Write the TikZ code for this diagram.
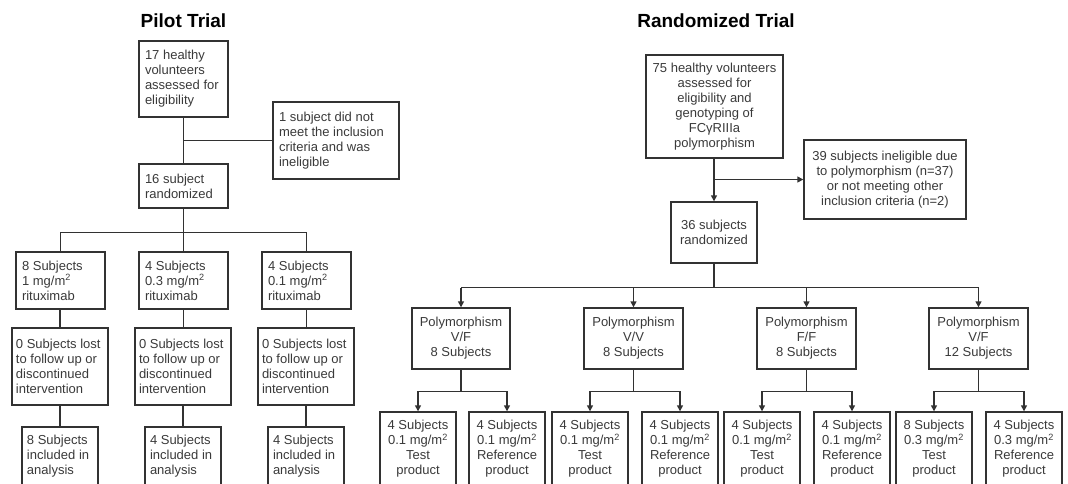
\documentclass[tikz,border=0pt]{standalone}
\usepackage{fontspec}
\setmainfont{Liberation Sans}
\usetikzlibrary{arrows.meta,calc}
\definecolor{ink}{RGB}{58,58,58}
\definecolor{edgec}{RGB}{50,50,50}
\tikzset{
  bx/.style={draw=edgec, line width=1.4pt, fill=white, text=ink,
    font=\fontsize{13}{15}\selectfont, inner ysep=0pt},
  lbox/.style={bx, align=flush left},
  cbox/.style={bx, align=center, inner xsep=2pt},
  conn/.style={draw=edgec, line width=1.4pt},
  arr/.style={conn, -{Triangle[length=6pt,width=6pt]}},
  ttl/.style={font=\bfseries\fontsize{19}{22}\selectfont, text=black, anchor=base, inner sep=0pt}
}
% left-aligned box: xsep, name, x1, y1, x2, y2, text
\newcommand\leftbox[7]{%
  \pgfmathsetmacro\BW{#5-#3}\pgfmathsetmacro\BH{#6-#4}%
  \pgfmathsetmacro\BX{(#3+#5)/2}\pgfmathsetmacro\BY{(#4+#6)/2}%
  \pgfmathsetmacro\TW{#5-#3-2*#1}%
  \node[lbox, inner xsep=#1pt, text width=\TW pt, minimum width=\BW pt, minimum height=\BH pt] (#2) at (\BX,\BY) {#7};}
% centred box: name, x1, y1, x2, y2, text
\newcommand\ctrbox[6]{%
  \pgfmathsetmacro\BW{#4-#2}\pgfmathsetmacro\BH{#5-#3}%
  \pgfmathsetmacro\BX{(#2+#4)/2}\pgfmathsetmacro\BY{(#3+#5)/2}%
  \node[cbox, minimum width=\BW pt, minimum height=\BH pt] (#1) at (\BX,\BY) {#6};}
\begin{document}
\begin{tikzpicture}[x=1pt,y=-1pt]
\useasboundingbox (0,0) rectangle (1068,483);
\fill[white] (0,0) rectangle (1068,483);
\clip (0,0) rectangle (1068,483);

% titles
\node[ttl] (t1) at (183.5,27) {Pilot Trial};
\node[ttl] (t2) at (716,27) {Randomized Trial};

% ---------- Pilot trial ----------
\leftbox{6}{A}{139}{41}{228}{117}{17~healthy\\volunteers\\assessed~for\\eligibility}
\leftbox{6}{B}{273}{102}{399}{179}{1~subject~did~not\\meet~the~inclusion\\criteria~and~was\\ineligible}
\leftbox{6}{C}{139}{164}{228}{208}{16~subject\\randomized}
\leftbox{6}{R1a}{16}{252}{105}{309}{8~Subjects\\1~mg/m\textsuperscript{2}\\rituximab}
\leftbox{6}{R1b}{139}{252}{228}{309}{4~Subjects\\0.3~mg/m\textsuperscript{2}\\rituximab}
\leftbox{6}{R1c}{262}{252}{351}{309}{4~Subjects\\0.1~mg/m\textsuperscript{2}\\rituximab}
\leftbox{4}{R2a}{12}{328}{108}{405}{0~Subjects~lost\\to~follow~up~or\\discontinued\\intervention}
\leftbox{4}{R2b}{135}{328}{231}{405}{0~Subjects~lost\\to~follow~up~or\\discontinued\\intervention}
\leftbox{4}{R2c}{258}{328}{354}{405}{0~Subjects~lost\\to~follow~up~or\\discontinued\\intervention}
\leftbox{5}{R3a}{22}{427}{98}{485}{8~Subjects\\included~in\\analysis}
\leftbox{5}{R3b}{145}{427}{221}{485}{4~Subjects\\included~in\\analysis}
\leftbox{5}{R3c}{268}{427}{344}{485}{4~Subjects\\included~in\\analysis}

\draw[conn] (A.south) -- (C.north);
\coordinate (jB) at ($(A.south)!0.5!(C.north)$);
\draw[conn] (jB) -- (jB -| B.west);
\coordinate (jP) at ($(C.south)+(0,24)$);
\draw[conn] (C.south) -- (jP);
\draw[conn] (R1a.north) |- (jP) -| (R1c.north);
\draw[conn] (jP) -- (R1b.north);
\draw[conn] (R2a.north |- R1a.south) -- (R2a.north);
\draw[conn] (R1b.south) -- (R1b.south |- R2b.north);
\draw[conn] (R1c.south) -- (R1c.south |- R2c.north);
\draw[conn] (R2a.south) -- (R3a.north);
\draw[conn] (R2b.south -| R3b.north) -- (R3b.north);
\draw[conn] (R2c.south -| R3c.north) -- (R3c.north);

% ---------- Randomized trial ----------
\ctrbox{D}{646}{55}{783}{158}{75 healthy volunteers\\assessed for\\eligibility and\\genotyping of\\FCγRIIIa\\polymorphism}
\ctrbox{F}{804}{140}{966}{219}{39 subjects ineligible due\\to polymorphism (n=37)\\or not meeting other\\inclusion criteria (n=2)}
\ctrbox{E}{671}{202}{757}{263}{36 subjects\\randomized}
\ctrbox{P1}{412}{308}{510}{369}{Polymorphism\\V/F\\8 Subjects}
\ctrbox{P2}{584}{308}{683}{369}{Polymorphism\\V/V\\8 Subjects}
\ctrbox{P3}{757}{308}{856}{369}{Polymorphism\\F/F\\8 Subjects}
\ctrbox{P4}{929}{308}{1028}{369}{Polymorphism\\V/F\\12 Subjects}
\ctrbox{L1}{380}{412}{456}{486}{4 Subjects\\0.1 mg/m\textsuperscript{2}\\Test\\product}
\ctrbox{L2}{469}{412}{545}{486}{4 Subjects\\0.1 mg/m\textsuperscript{2}\\Reference\\product}
\ctrbox{L3}{552}{412}{628}{486}{4 Subjects\\0.1 mg/m\textsuperscript{2}\\Test\\product}
\ctrbox{L4}{642}{412}{718}{486}{4 Subjects\\0.1 mg/m\textsuperscript{2}\\Reference\\product}
\ctrbox{L5}{724}{412}{800}{486}{4 Subjects\\0.1 mg/m\textsuperscript{2}\\Test\\product}
\ctrbox{L6}{814}{412}{890}{486}{4 Subjects\\0.1 mg/m\textsuperscript{2}\\Reference\\product}
\ctrbox{L7}{896}{412}{972}{486}{8 Subjects\\0.3 mg/m\textsuperscript{2}\\Test\\product}
\ctrbox{L8}{986}{412}{1062}{486}{4 Subjects\\0.3 mg/m\textsuperscript{2}\\Reference\\product}

\draw[arr] (E.north |- D.south) -- (E.north);
\coordinate (jF) at (E.north |- F.west);
\draw[arr] (jF) -- (F.west);
\coordinate (jR) at ($(E.south)+(0,24)$);
\draw[conn] (E.south) -- (jR);
\draw[conn] (P1.north |- jR) -- (P4.north |- jR);
\foreach \p in {P1,P2,P3,P4}{
  \draw[arr] (\p.north |- jR) -- (\p.north);
}
\foreach \p/\a/\b in {P1/L1/L2, P2/L3/L4, P3/L5/L6, P4/L7/L8}{
  \coordinate (q\p) at ($(\p.south)+(0,22)$);
  \draw[conn] (\p.south) -- (q\p);
  \draw[arr] (q\p) -| (\a.north);
  \draw[arr] (q\p) -| (\b.north);
}
\end{tikzpicture}
\end{document}
